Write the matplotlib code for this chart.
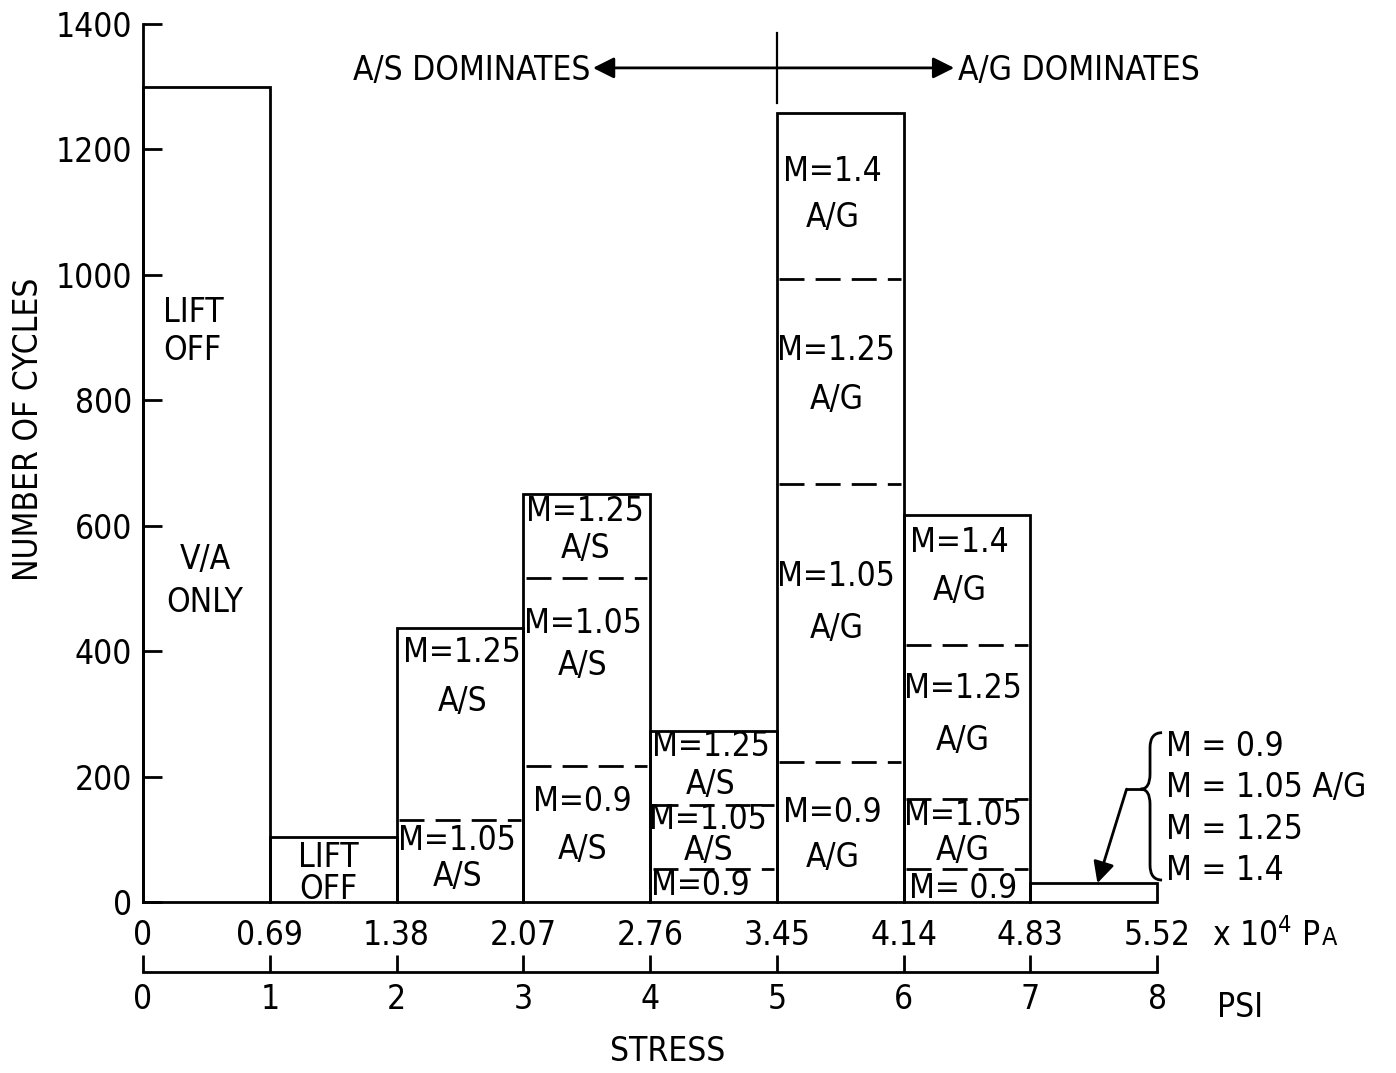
import numpy as np
import matplotlib.pyplot as plt
from matplotlib.path import Path
from matplotlib.patches import PathPatch

plt.rcParams['font.family'] = ['DejaVu Sans']
plt.rcParams['font.stretch'] = 'condensed'

# stress bins (psi) and the two scales
psi_edges = [0, 1, 2, 3, 4, 5, 6, 7, 8]
psi_labels = ['0', '1', '2', '3', '4', '5', '6', '7', '8']
pa_labels = ['0', '0.69', '1.38', '2.07', '2.76', '3.45', '4.14', '4.83', '5.52']

# number of cycles in each 1 psi bin
cycles = [1300, 103, 437, 650, 272, 1258, 617, 30]

# dashed split levels inside each bar (cumulative cycles), keyed by bin index
splits = {
    2: [131],
    3: [217, 517],
    4: [52, 155],
    5: [223, 667, 993],
    6: [52, 164, 410],
}

# text inside the bars: (x, y, text, ha, linespacing)
bar_text = [
    (0.16, 910, 'LIFT\nOFF', 'left', 1.18),
    (0.49, 512, 'V/A\nONLY', 'center', 1.37),
    (1.46, 46, 'LIFT\nOFF', 'center', 0.96),
    (2.52, 359, 'M=1.25\nA/S', 'center', 1.6),
    (2.48, 69, 'M=1.05\nA/S', 'center', 1.12),
    (3.49, 593, 'M=1.25\nA/S', 'center', 1.15),
    (3.47, 411, 'M=1.05\nA/S', 'center', 1.34),
    (3.47, 122, 'M=0.9\nA/S', 'center', 1.6),
    (4.48, 218, 'M=1.25\nA/S', 'center', 1.21),
    (4.46, 107, 'M=1.05\nA/S', 'center', 0.92),
    (4.40, 26, 'M=0.9', 'center', 1.0),
    (5.44, 1128, 'M=1.4\nA/G', 'center', 1.53),
    (5.47, 840, 'M=1.25\nA/G', 'center', 1.63),
    (5.47, 477, 'M=1.05\nA/G', 'center', 1.72),
    (5.44, 107, 'M=0.9\nA/G', 'center', 1.44),
    (6.44, 535, 'M=1.4\nA/G', 'center', 1.6),
    (6.47, 299, 'M=1.25\nA/G', 'center', 1.7),
    (6.47, 110, 'M=1.05\nA/G', 'center', 1.05),
    (6.47, 22, 'M= 0.9', 'center', 1.0),
]

brace_lines = ['M = 0.9', 'M = 1.05 A/G', 'M = 1.25', 'M = 1.4']

fig = plt.figure(figsize=(13.96, 10.73), dpi=100)
ax = fig.add_axes([143 / 1396, 1 - 902 / 1073, 1014 / 1396, 878 / 1073])

lw = 2.0
fs = 24

ax.bar(psi_edges[:-1], cycles, width=1, align='edge', fill=False,
       edgecolor='black', linewidth=lw, clip_on=False)

for i, levels in splits.items():
    ax.hlines(levels, psi_edges[i] + 0.02, psi_edges[i + 1] - 0.02,
              colors='black', linewidth=lw, linestyles=(0, (9, 4)))

for x, y, s, ha, ls in bar_text:
    ax.text(x, y, s, ha=ha, va='center', fontsize=fs, linespacing=ls)

ax.set_xlim(0, 8)
ax.set_ylim(0, 1400)
ax.set_yticks(np.arange(0, 1401, 200))
ax.tick_params(axis='y', direction='in', length=14, width=lw, pad=8,
               labelsize=fs)
ax.spines['left'].set_linewidth(lw)
for side in ['top', 'right', 'bottom']:
    ax.spines[side].set_visible(False)

# Pa scale directly under the bars
ax.set_xticks(psi_edges, pa_labels)
ax.tick_params(axis='x', length=0, pad=12, labelsize=fs)
t = ax.text(8.43, -54, 'x 10$^{4}$ P', ha='left', va='center', fontsize=fs)
ax.annotate('A', xy=(1, 0), xycoords=t, xytext=(1, 2),
            textcoords='offset points', ha='left', va='bottom',
            fontsize=fs - 6)

# psi scale
sec = ax.secondary_xaxis(-0.0797)
sec.set_xticks(psi_edges, psi_labels)
sec.spines['bottom'].set_linewidth(lw)
sec.tick_params(direction='in', length=12, width=lw, pad=8, labelsize=fs)
ax.text(8.47, -168, 'PSI', ha='left', va='center', fontsize=fs)
ax.text(4.14, -238, 'STRESS', ha='center', va='center', fontsize=fs)

ax.text(-0.9, 753, 'NUMBER OF CYCLES', rotation=90, ha='center',
        va='center', fontsize=fs)

# dominance annotation
ax.plot([5, 5], [1274, 1386], color='black', lw=1.6, clip_on=False)
ax.annotate('', xy=(3.55, 1330), xytext=(6.4, 1330),
            arrowprops=dict(arrowstyle='<|-|>', lw=lw, color='black',
                            mutation_scale=32, shrinkA=0, shrinkB=0))
ax.text(3.53, 1326, 'A/S DOMINATES', ha='right', va='center', fontsize=fs)
ax.text(6.43, 1326, 'A/G DOMINATES', ha='left', va='center', fontsize=fs)

# brace for the last bin
bx, tip, end = 7.945, 7.87, 8.04
verts = [(end, 270), (bx, 270), (bx, 246), (bx, 204), (bx, 180), (tip, 180),
         (bx, 180), (bx, 156), (bx, 59), (bx, 35), (end, 35)]
codes = [Path.MOVETO, Path.CURVE3, Path.CURVE3, Path.LINETO, Path.CURVE3,
         Path.CURVE3, Path.CURVE3, Path.CURVE3, Path.LINETO, Path.CURVE3,
         Path.CURVE3]
ax.add_patch(PathPatch(Path(verts, codes), fill=False, lw=lw, clip_on=False))
ax.plot([7.87, 7.76], [180, 180], color='black', lw=lw, clip_on=False)
ax.annotate('', xy=(7.53, cycles[7]), xytext=(7.76, 180),
            arrowprops=dict(arrowstyle='-|>', lw=lw, color='black',
                            mutation_scale=32, shrinkA=0, shrinkB=0))
for k, s in enumerate(brace_lines):
    ax.text(8.07, 248 - k * 66, s, ha='left', va='center', fontsize=fs)

fig.savefig('out.png', dpi=100)
